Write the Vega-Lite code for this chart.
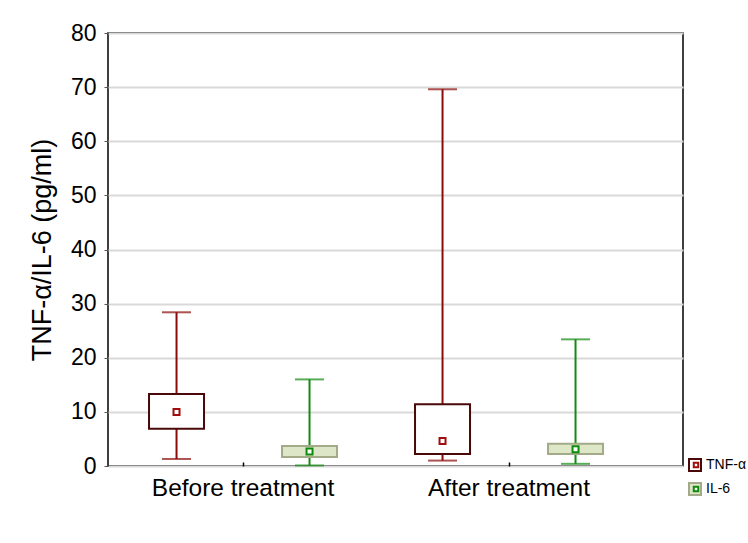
{
  "$schema": "https://vega.github.io/schema/vega-lite/v6.json",
  "width": 575,
  "height": 433,
  "autosize": "none",
  "padding": {"left": 108, "top": 33, "right": 65, "bottom": 77},
  "background": "white",
  "config": {
    "font": "Liberation Sans",
    "view": {"stroke": "black", "strokeWidth": 1.5}
  },
  "data": {
    "values": [
      {"group": "Before treatment", "series": "TNF-α", "min": 1.3, "q1": 6.9, "median": 10.0, "q3": 13.3, "max": 28.4},
      {"group": "Before treatment", "series": "IL-6", "min": 0.1, "q1": 1.65, "median": 2.7, "q3": 3.7, "max": 16.0},
      {"group": "After treatment", "series": "TNF-α", "min": 1.0, "q1": 2.2, "median": 4.6, "q3": 11.4, "max": 69.6},
      {"group": "After treatment", "series": "IL-6", "min": 0.4, "q1": 2.2, "median": 3.1, "q3": 4.1, "max": 23.4}
    ]
  },
  "encoding": {
    "x": {
      "field": "group",
      "type": "nominal",
      "sort": ["Before treatment", "After treatment"],
      "scale": {"paddingInner": 0, "paddingOuter": 0.0808, "align": 0.047},
      "axis": {
        "title": null,
        "labelAngle": 0,
        "labelFontSize": 24.5,
        "labelColor": "black",
        "labelPadding": 14,
        "labelLimit": 400,
        "domain": false,
        "ticks": true,
        "tickSize": -4,
        "tickColor": "black",
        "tickWidth": 1.5
      }
    },
    "xOffset": {
      "field": "series",
      "type": "nominal",
      "sort": ["TNF-α", "IL-6"],
      "scale": {"paddingInner": 0, "paddingOuter": 0}
    }
  },
  "layer": [
    {
      "mark": {"type": "rule", "strokeWidth": 2},
      "encoding": {
        "y": {
          "field": "min",
          "type": "quantitative",
          "scale": {"domain": [0, 80], "nice": false, "zero": false},
          "axis": {
            "title": "TNF-α/IL-6 (pg/ml)",
            "titleFontSize": 27,
            "titleFontWeight": "normal",
            "titleColor": "black",
            "titlePadding": 14,
            "values": [0, 10, 20, 30, 40, 50, 60, 70, 80],
            "labelFontSize": 23,
            "labelColor": "black",
            "labelPadding": 8,
            "domain": false,
            "tickSize": 4,
            "tickColor": "#555555",
            "grid": true,
            "gridColor": "#d9d9d9",
            "gridWidth": 2
          }
        },
        "y2": {"field": "max"},
        "stroke": {"condition": {"test": "datum.series === 'TNF-α'", "value": "#8b0a0a"}, "value": "#138a13"}
      }
    },
    {
      "mark": {"type": "tick", "thickness": 2, "size": 29},
      "encoding": {
        "y": {"field": "max", "type": "quantitative"},
        "color": {"condition": {"test": "datum.series === 'TNF-α'", "value": "#8b0a0a"}, "value": "#138a13"}
      }
    },
    {
      "mark": {"type": "tick", "thickness": 2, "size": 29},
      "encoding": {
        "y": {"field": "min", "type": "quantitative"},
        "color": {"condition": {"test": "datum.series === 'TNF-α'", "value": "#8b0a0a"}, "value": "#138a13"}
      }
    },
    {
      "mark": {"type": "bar", "size": 55, "strokeWidth": 2},
      "encoding": {
        "y": {"field": "q1", "type": "quantitative"},
        "y2": {"field": "q3"},
        "fill": {
          "field": "series",
          "type": "nominal",
          "scale": {"domain": ["TNF-α", "IL-6"], "range": ["#ffffff", "#dde7c7"]},
          "legend": {
            "title": null,
            "orient": "none",
            "legendX": 580,
            "legendY": 425,
            "symbolType": "square",
            "symbolSize": 144,
            "symbolStrokeWidth": 2,
            "labelFontSize": 14,
            "labelColor": "black",
            "labelOffset": 4,
            "labelLimit": 100,
            "clipHeight": 14,
            "rowPadding": 10
          }
        },
        "stroke": {
          "field": "series",
          "type": "nominal",
          "scale": {"domain": ["TNF-α", "IL-6"], "range": ["#4a0808", "#a3aa88"]}
        }
      }
    },
    {
      "mark": {"type": "point", "shape": "square", "filled": false, "fill": "white", "size": 36, "strokeWidth": 2, "opacity": 1},
      "encoding": {
        "y": {"field": "median", "type": "quantitative"},
        "color": {
          "field": "series",
          "type": "nominal",
          "sort": ["TNF-α", "IL-6"],
          "scale": {"range": ["#a00d0d", "#0f8a0f"]},
          "legend": {
            "title": null,
            "orient": "none",
            "legendX": 581,
            "legendY": 425,
            "symbolType": "square",
            "symbolSize": 20,
            "symbolStrokeWidth": 2,
            "symbolFillColor": "white",
            "labelFontSize": 14,
            "labelOpacity": 0,
            "labelOffset": 4,
            "labelLimit": 100,
            "clipHeight": 14,
            "rowPadding": 10
          }
        }
      }
    }
  ]
}
